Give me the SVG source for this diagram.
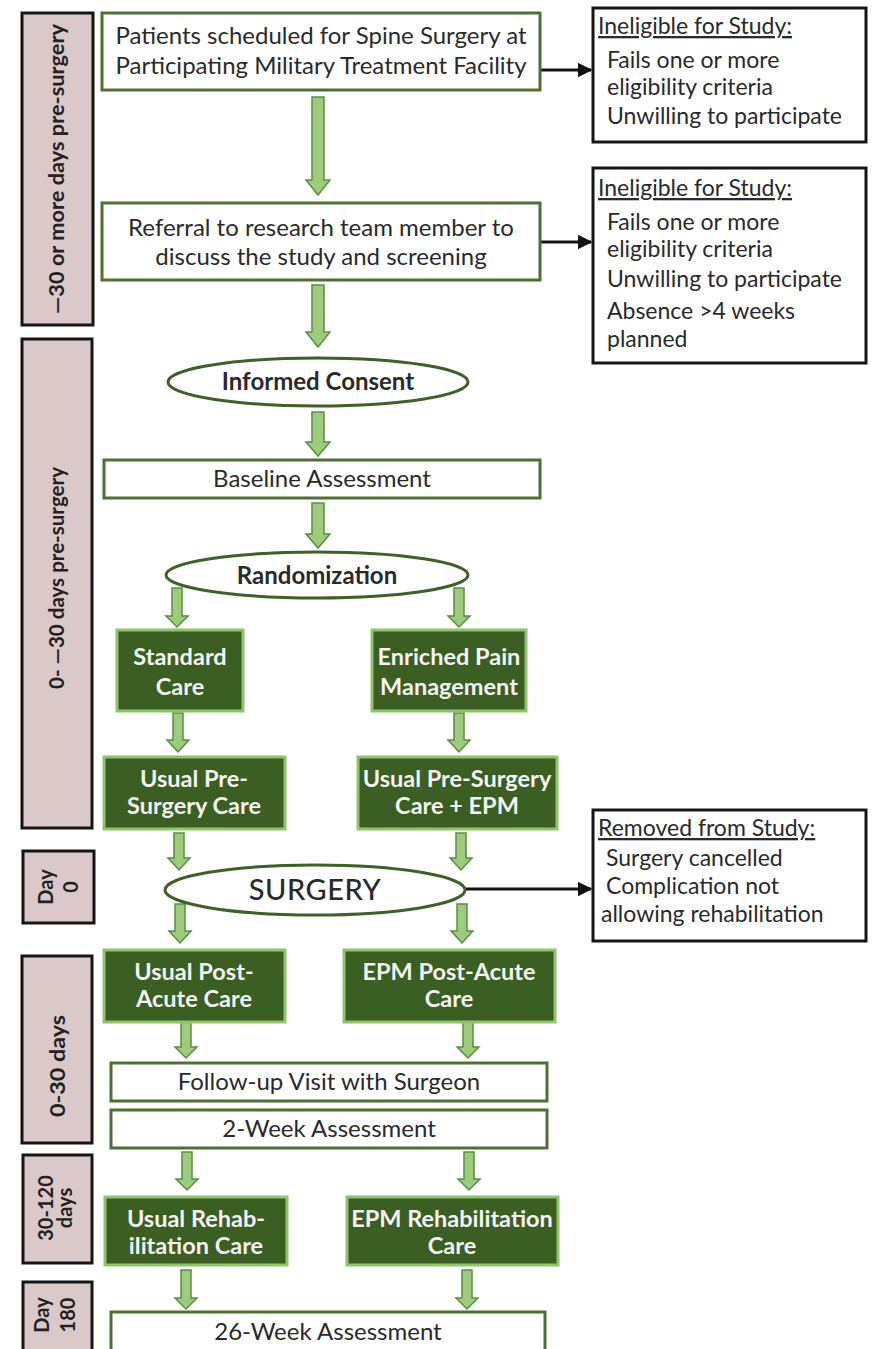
<svg xmlns="http://www.w3.org/2000/svg" width="873" height="1349" viewBox="0 0 873 1349">
<style>
  text { font-family: Lato, "Liberation Sans", sans-serif; fill: #2a2a2a; }
  .side { fill: #dbc9c9; stroke: #151515; stroke-width: 3; }
  .sidet { font-size: 20px; font-weight: bold; text-anchor: middle; fill: #222; }
  .wbox { fill: #ffffff; stroke: #4e7033; stroke-width: 3; }
  .dbox { fill: #3b5e22; stroke: #8fc46c; stroke-width: 3; }
  .oval { fill: #ffffff; stroke: #3f6129; stroke-width: 3; }
  .xbox { fill: #ffffff; stroke: #151515; stroke-width: 3; }
  .t { font-size: 24px; text-anchor: middle; }
  .tb { font-size: 24px; font-weight: bold; text-anchor: middle; }
  .dt { font-size: 23.5px; font-weight: bold; text-anchor: middle; fill: #f4f4f4; }
  .xt { font-size: 23px; }
  .xh { font-size: 23px; text-decoration: underline; }
  .barrow { fill: #9dcb7c; stroke: #5d8c43; stroke-width: 1.5; stroke-linejoin: miter; }
  .line { stroke: #111; stroke-width: 3; fill: none; }
</style>
<defs>
  <marker id="ah" viewBox="0 0 10 10" refX="9" refY="5" markerWidth="5" markerHeight="5" orient="auto" markerUnits="strokeWidth">
    <path d="M0,0 L10,5 L0,10 Z" fill="#111"/>
  </marker>
</defs>

<!-- timeline side bars -->
<g id="side1"><rect class="side" x="22" y="13" width="71" height="312"/><text class="sidet" transform="translate(64,169) rotate(-90)" textLength="290" lengthAdjust="spacingAndGlyphs">—30 or more days pre-surgery</text></g>
<g id="side2"><rect class="side" x="22" y="339" width="70" height="489"/><text class="sidet" transform="translate(64,578) rotate(-90)" textLength="222" lengthAdjust="spacingAndGlyphs">0- —30 days pre-surgery</text></g>
<g id="side3"><rect class="side" x="23" y="851" width="71" height="72"/><text class="sidet" transform="translate(53,887) rotate(-90)">Day</text><text class="sidet" transform="translate(78,887) rotate(-90)">0</text></g>
<g id="side4"><rect class="side" x="22" y="956" width="70" height="187"/><text class="sidet" transform="translate(65,1066) rotate(-90)" textLength="102" lengthAdjust="spacingAndGlyphs">0-30 days</text></g>
<g id="side5"><rect class="side" x="23" y="1155" width="69" height="108"/><text class="sidet" transform="translate(53,1208) rotate(-90)">30-120</text><text class="sidet" transform="translate(72,1208) rotate(-90)">days</text></g>
<g id="side6"><rect class="side" x="23" y="1282" width="69" height="80"/><text class="sidet" transform="translate(49,1315) rotate(-90)">Day</text><text class="sidet" transform="translate(75,1315) rotate(-90)">180</text></g>

<!-- connectors -->
<g id="connectors">
  <path class="barrow" d="M312,97 H324 V180 H330 L318,195 L306,180 H312 Z"/>
  <path class="barrow" d="M312,285 H324 V332 H330 L318,347 L306,332 H312 Z"/>
  <path class="barrow" d="M312,412 H324 V442 H330 L318,456 L306,442 H312 Z"/>
  <path class="barrow" d="M312,503 H324 V534 H330 L318,548 L306,534 H312 Z"/>
  <path class="barrow" d="M172,588 H182 V616 H188 L177,627 L166,616 H172 Z"/>
  <path class="barrow" d="M454,588 H464 V616 H470 L459,627 L448,616 H454 Z"/>
  <path class="barrow" d="M173,713 H183 V740 H189 L178,752 L167,740 H173 Z"/>
  <path class="barrow" d="M454,713 H464 V740 H470 L459,752 L448,740 H454 Z"/>
  <path class="barrow" d="M174,833 H184 V858 H190 L179,870 L168,858 H174 Z"/>
  <path class="barrow" d="M456,833 H466 V858 H472 L461,870 L450,858 H456 Z"/>
  <path class="barrow" d="M175,904 H185 V931 H191 L180,943 L169,931 H175 Z"/>
  <path class="barrow" d="M457,904 H467 V931 H473 L462,943 L451,931 H457 Z"/>
  <path class="barrow" d="M181,1020 H191 V1047 H197 L186,1058 L175,1047 H181 Z"/>
  <path class="barrow" d="M463,1020 H473 V1047 H479 L468,1058 L457,1047 H463 Z"/>
  <path class="barrow" d="M182,1152 H192 V1179 H198 L187,1190 L176,1179 H182 Z"/>
  <path class="barrow" d="M464,1152 H474 V1179 H480 L469,1190 L458,1179 H464 Z"/>
  <path class="barrow" d="M181,1270 H191 V1298 H197 L186,1309 L175,1298 H181 Z"/>
  <path class="barrow" d="M462,1270 H472 V1298 H478 L467,1309 L456,1298 H462 Z"/>
  <line class="line" x1="541" y1="70" x2="591" y2="70" marker-end="url(#ah)"/>
  <line class="line" x1="541" y1="242" x2="591" y2="242" marker-end="url(#ah)"/>
  <line class="line" x1="465" y1="889" x2="591" y2="889" marker-end="url(#ah)"/>
</g>

<!-- main flow -->
<g id="patients"><rect class="wbox" x="102" y="13" width="438" height="77"/><text class="t" x="321" y="44">Patients scheduled for Spine Surgery at</text><text class="t" x="321" y="74">Participating Military Treatment Facility</text></g>
<g id="referral"><rect class="wbox" x="102" y="203" width="438" height="77"/><text class="t" x="321" y="236">Referral to research team member to</text><text class="t" x="321" y="265">discuss the study and screening</text></g>
<g id="consent"><ellipse class="oval" cx="318" cy="382" rx="150" ry="24"/><text class="tb" x="318" y="390">Informed Consent</text></g>
<g id="baseline"><rect class="wbox" x="104" y="460" width="436" height="38"/><text class="t" x="322" y="487">Baseline Assessment</text></g>
<g id="random"><ellipse class="oval" cx="317" cy="575" rx="151" ry="23"/><text class="tb" x="317" y="584">Randomization</text></g>
<g id="standard"><rect class="dbox" x="117" y="630" width="126" height="81"/><text class="dt" x="180" y="665">Standard</text><text class="dt" x="180" y="695">Care</text></g>
<g id="enriched"><rect class="dbox" x="372" y="630" width="154" height="81"/><text class="dt" x="449" y="665">Enriched Pain</text><text class="dt" x="449" y="695">Management</text></g>
<g id="usualpre"><rect class="dbox" x="104" y="757" width="181" height="72"/><text class="dt" x="194" y="787">Usual Pre-</text><text class="dt" x="194" y="814">Surgery Care</text></g>
<g id="epmpre"><rect class="dbox" x="358" y="757" width="199" height="72"/><text class="dt" x="457" y="787">Usual Pre-Surgery</text><text class="dt" x="457" y="814">Care + EPM</text></g>
<g id="surgery"><ellipse class="oval" cx="315" cy="890" rx="150" ry="25"/><text x="315" y="900" style="font-size:29px;text-anchor:middle;font-weight:500;letter-spacing:0.5px">SURGERY</text></g>
<g id="usualpost"><rect class="dbox" x="104" y="950" width="181" height="72"/><text class="dt" x="194" y="980">Usual Post-</text><text class="dt" x="194" y="1007">Acute Care</text></g>
<g id="epmpost"><rect class="dbox" x="344" y="950" width="211" height="72"/><text class="dt" x="449" y="980">EPM Post-Acute</text><text class="dt" x="449" y="1007">Care</text></g>
<g id="followup"><rect class="wbox" x="111" y="1063" width="436" height="38"/><text class="t" x="329" y="1090">Follow-up Visit with Surgeon</text></g>
<g id="week2"><rect class="wbox" x="111" y="1110" width="436" height="38"/><text class="t" x="329" y="1137">2-Week Assessment</text></g>
<g id="usualrehab"><rect class="dbox" x="105" y="1197" width="182" height="68"/><text class="dt" x="196" y="1227">Usual Rehab-</text><text class="dt" x="196" y="1254">ilitation Care</text></g>
<g id="epmrehab"><rect class="dbox" x="347" y="1197" width="211" height="68"/><text class="dt" x="452" y="1227">EPM Rehabilitation</text><text class="dt" x="452" y="1254">Care</text></g>
<g id="week26"><rect class="wbox" x="111" y="1312" width="434" height="50"/><text class="t" x="328" y="1340">26-Week Assessment</text></g>

<!-- exclusion boxes -->
<g id="inelig1"><rect class="xbox" x="593" y="8" width="273" height="134"/><text class="xh" x="598" y="34">Ineligible for Study:</text><text class="xt" x="607" y="68">Fails one or more</text><text class="xt" x="607" y="95">eligibility criteria</text><text class="xt" x="607" y="124">Unwilling to participate</text></g>
<g id="inelig2"><rect class="xbox" x="593" y="168" width="273" height="195"/><text class="xh" x="598" y="196">Ineligible for Study:</text><text class="xt" x="607" y="230">Fails one or more</text><text class="xt" x="607" y="257">eligibility criteria</text><text class="xt" x="607" y="287">Unwilling to participate</text><text class="xt" x="607" y="319">Absence &gt;4 weeks</text><text class="xt" x="607" y="347">planned</text></g>
<g id="removed"><rect class="xbox" x="593" y="810" width="273" height="131"/><text class="xh" x="598" y="836">Removed from Study:</text><text class="xt" x="606" y="866">Surgery cancelled</text><text class="xt" x="606" y="894">Complication not</text><text class="xt" x="601" y="922">allowing rehabilitation</text></g>
</svg>
